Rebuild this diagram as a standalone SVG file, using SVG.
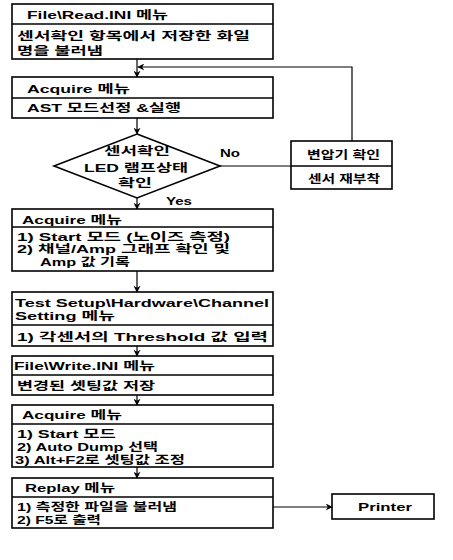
<svg xmlns="http://www.w3.org/2000/svg" width="453" height="560" viewBox="0 0 453 560">
<defs>
<marker id="ah" viewBox="0 0 10 10" refX="9" refY="5" markerWidth="7" markerHeight="7" orient="auto" markerUnits="userSpaceOnUse">
<path d="M0,0 L10,5 L0,10 L3,5 z" fill="#000"/>
</marker>
<style>
.b{fill:#fff;stroke:#000;stroke-width:1.6}
.l{fill:none;stroke:#000;stroke-width:1.3}
.c{fill:none;stroke:#000;stroke-width:1.2}
text{font-family:"Liberation Sans","Noto Sans CJK KR",sans-serif;font-size:11.5px;font-weight:bold;fill:#000}
</style>
</defs>
<rect width="453" height="560" fill="#fff"/>
<g id="n1">
<rect class="b" x="12" y="4" width="261" height="55"/>
<line class="l" x1="12" y1="24" x2="273" y2="24"/>
<text x="27" y="19" textLength="141" lengthAdjust="spacingAndGlyphs">File\Read.INI 메뉴</text>
<text x="17" y="39.5" textLength="233" lengthAdjust="spacingAndGlyphs">센서확인 항목에서 저장한 화일</text>
<text x="17" y="55" textLength="86" lengthAdjust="spacingAndGlyphs">명을 불러냄</text>
</g>
<g id="n2">
<rect class="b" x="12" y="77" width="261" height="41"/>
<line class="l" x1="12" y1="98" x2="273" y2="98"/>
<text x="27" y="92.5" textLength="103" lengthAdjust="spacingAndGlyphs">Acquire 메뉴</text>
<text x="27" y="112" textLength="154" lengthAdjust="spacingAndGlyphs">AST 모드선정 &amp;실행</text>
</g>
<g id="n3">
<polygon class="b" points="137,134 220,166 137,198 54,166"/>
<text x="104" y="154.5" textLength="66" lengthAdjust="spacingAndGlyphs">센서확인</text>
<text x="84" y="171.5" textLength="104" lengthAdjust="spacingAndGlyphs">LED 램프상태</text>
<text x="118" y="186.5" textLength="34" lengthAdjust="spacingAndGlyphs">확인</text>
</g>
<g id="n4">
<rect class="b" x="291" y="141" width="101" height="48"/>
<line class="l" x1="291" y1="166" x2="392" y2="166"/>
<text x="307" y="158.5" textLength="73" lengthAdjust="spacingAndGlyphs">변압기 확인</text>
<text x="308" y="182.5" textLength="72" lengthAdjust="spacingAndGlyphs">센서 재부착</text>
</g>
<g id="n5">
<rect class="b" x="12" y="209" width="261" height="62"/>
<line class="l" x1="12" y1="227" x2="273" y2="227"/>
<text x="22" y="223.5" textLength="100" lengthAdjust="spacingAndGlyphs">Acquire 메뉴</text>
<text x="17" y="240.5" textLength="213" lengthAdjust="spacingAndGlyphs">1) Start 모드 (노이즈 측정)</text>
<text x="17" y="253" textLength="213" lengthAdjust="spacingAndGlyphs">2) 채널/Amp 그래프 확인 및</text>
<text x="40" y="265.5" textLength="90" lengthAdjust="spacingAndGlyphs">Amp 값 기록</text>
</g>
<g id="n6">
<rect class="b" x="12" y="292" width="261" height="54"/>
<line class="l" x1="12" y1="325" x2="273" y2="325"/>
<text x="15" y="306.5" textLength="254" lengthAdjust="spacingAndGlyphs">Test Setup\Hardware\Channel</text>
<text x="15" y="320" textLength="100" lengthAdjust="spacingAndGlyphs">Setting 메뉴</text>
<text x="17" y="340.5" textLength="251" lengthAdjust="spacingAndGlyphs">1) 각센서의 Threshold 값 입력</text>
</g>
<g id="n7">
<rect class="b" x="12" y="356" width="261" height="39"/>
<line class="l" x1="12" y1="375" x2="273" y2="375"/>
<text x="14" y="370" textLength="141" lengthAdjust="spacingAndGlyphs">File\Write.INI 메뉴</text>
<text x="17" y="389.5" textLength="138" lengthAdjust="spacingAndGlyphs">변경된 셋팅값 저장</text>
</g>
<g id="n8">
<rect class="b" x="12" y="405" width="261" height="62"/>
<line class="l" x1="12" y1="424" x2="273" y2="424"/>
<text x="22" y="418.5" textLength="100" lengthAdjust="spacingAndGlyphs">Acquire 메뉴</text>
<text x="17" y="437.5" textLength="99" lengthAdjust="spacingAndGlyphs">1) Start 모드</text>
<text x="17" y="450.5" textLength="141" lengthAdjust="spacingAndGlyphs">2) Auto Dump 선택</text>
<text x="15" y="463.5" textLength="170" lengthAdjust="spacingAndGlyphs">3) Alt+F2로 셋팅값 조정</text>
</g>
<g id="n9">
<rect class="b" x="12" y="478" width="261" height="50"/>
<line class="l" x1="12" y1="497" x2="273" y2="497"/>
<text x="25" y="492" textLength="90" lengthAdjust="spacingAndGlyphs">Replay 메뉴</text>
<text x="17" y="511" textLength="160" lengthAdjust="spacingAndGlyphs">1) 측정한 파일을 불러냄</text>
<text x="17" y="523.5" textLength="84" lengthAdjust="spacingAndGlyphs">2) F5로 출력</text>
</g>
<g id="n10">
<rect class="b" x="332" y="494" width="102" height="25"/>
<text x="358" y="511" textLength="54" lengthAdjust="spacingAndGlyphs">Printer</text>
</g>
<g id="connectors">
<line class="c" x1="137" y1="59" x2="137" y2="77" marker-end="url(#ah)"/>
<polyline class="c" points="352,141 352,67 138,67" marker-end="url(#ah)"/>
<line class="c" x1="137" y1="118" x2="137" y2="134" marker-end="url(#ah)"/>
<line class="c" x1="220" y1="166" x2="291" y2="166"/>
<line class="c" x1="137" y1="198" x2="137" y2="209" marker-end="url(#ah)"/>
<line class="c" x1="137" y1="271" x2="137" y2="292" marker-end="url(#ah)"/>
<line class="c" x1="137" y1="346" x2="137" y2="356" marker-end="url(#ah)"/>
<line class="c" x1="137" y1="395" x2="137" y2="405" marker-end="url(#ah)"/>
<line class="c" x1="137" y1="467" x2="137" y2="478" marker-end="url(#ah)"/>
<line class="c" x1="273" y1="507" x2="332" y2="507" marker-end="url(#ah)"/>
<text x="220" y="157" textLength="20" lengthAdjust="spacingAndGlyphs">No</text>
<text x="166" y="204.5" textLength="26" lengthAdjust="spacingAndGlyphs">Yes</text>
</g>
</svg>
